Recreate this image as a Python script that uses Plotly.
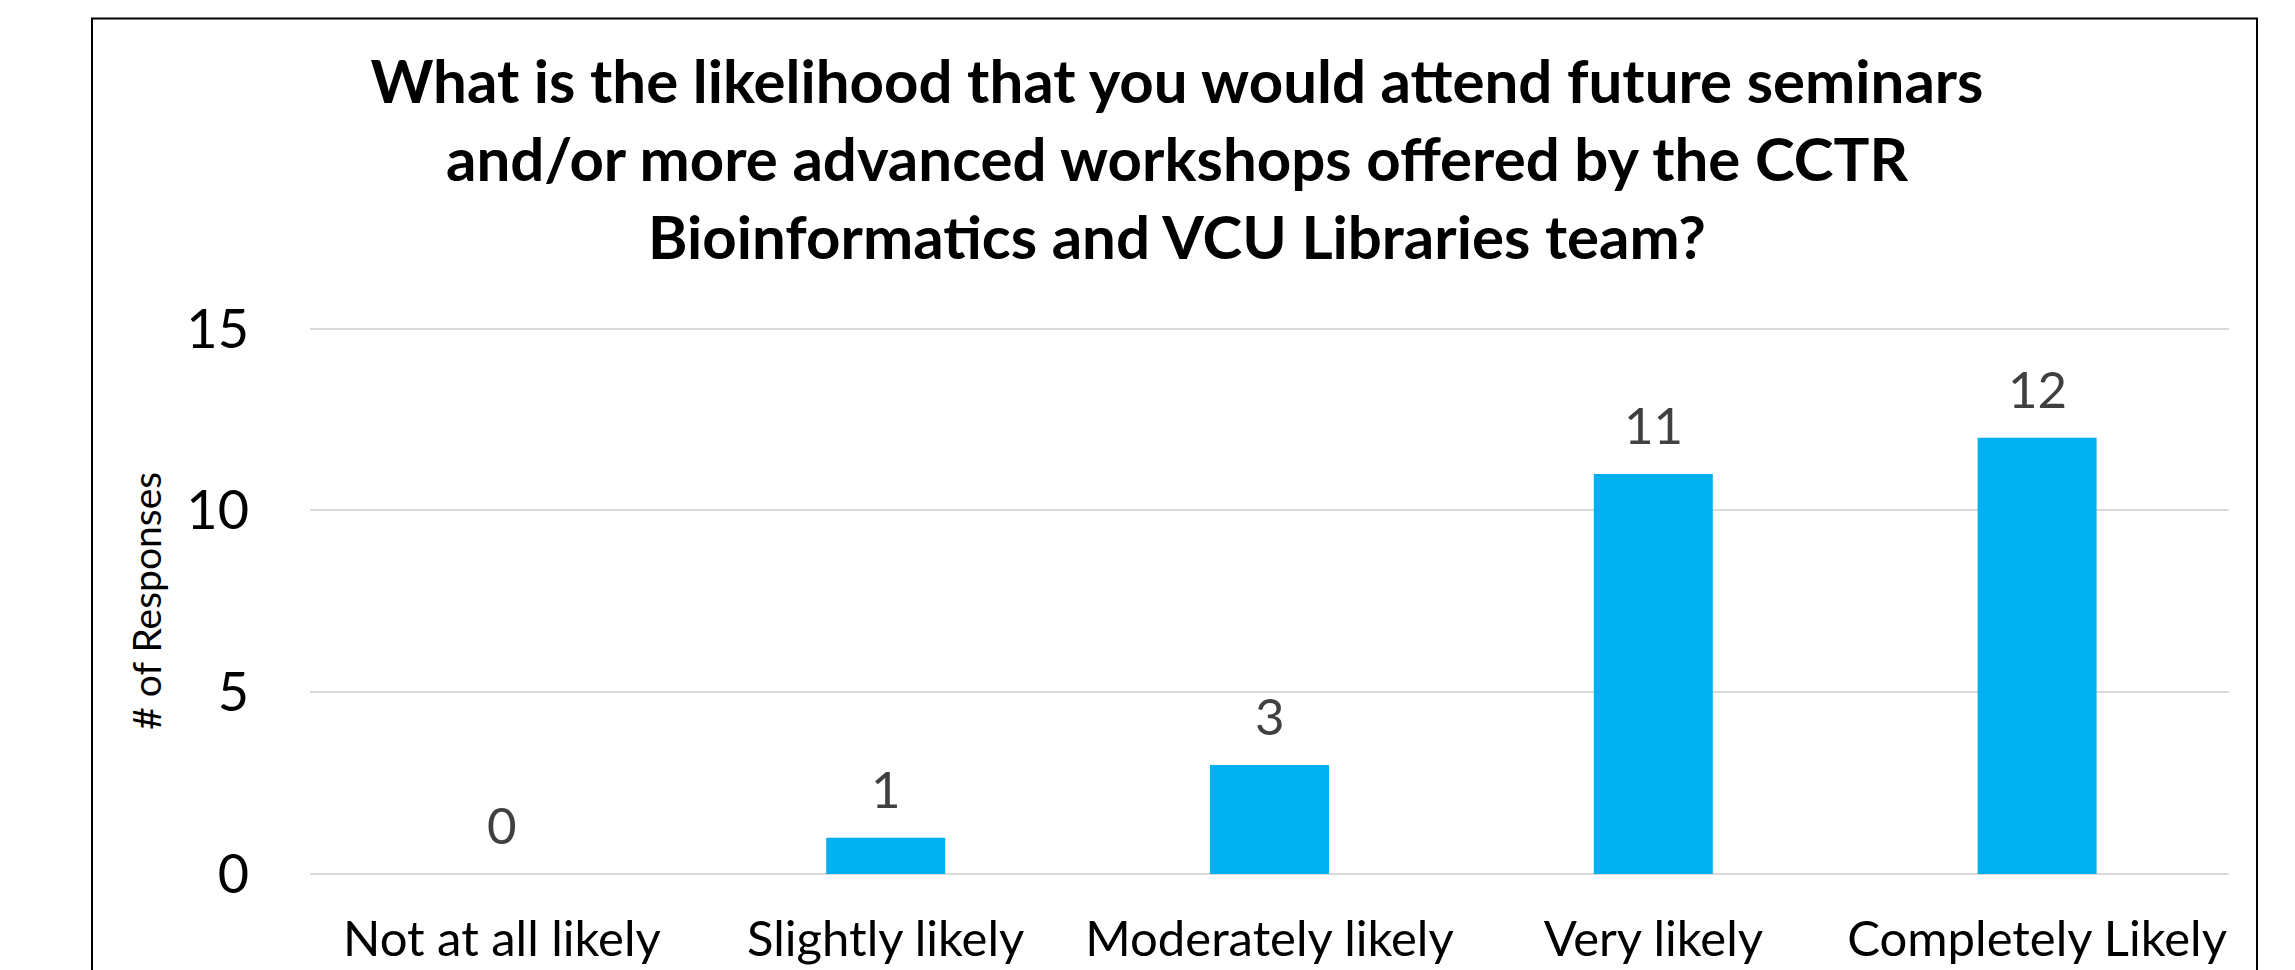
import plotly.graph_objects as go

categories = ["Not at all likely", "Slightly likely", "Moderately likely", "Very likely", "Completely Likely"]
responses = [0, 1, 3, 11, 12]
y_ticks = [0, 5, 10, 15]
title_text = ("What is the likelihood that you would attend future seminars<br>"
              "and/or more advanced workshops offered by the CCTR<br>"
              "Bioinformatics and VCU Libraries team?")
y_title = "# of Responses"

W, H = 2295, 970
Y_TOP_PX, Y_ZERO_PX = 329, 874          # pixel rows of y=15 and y=0
X_LEFT_PX, X_RIGHT_PX = 310, 2229
Y_MAX = 15.1                            # small headroom so the 15 gridline shows
unit = (Y_ZERO_PX - Y_TOP_PX) / 15.0
L = X_LEFT_PX
R = W - X_RIGHT_PX
B = H - Y_ZERO_PX
T = Y_TOP_PX - (Y_MAX - 15) * unit
pw, ph = W - L - R, H - T - B

FONT = "Lato"
BAR_COLOR = "#00B0F0"

def px_x(p):
    return (p - L) / pw

def px_y(p):
    return (H - B - p) / ph

fig = go.Figure()
fig.add_trace(go.Bar(
    x=categories, y=responses,
    marker=dict(color=BAR_COLOR, line=dict(width=0)),
    width=0.31,
    hoverinfo="x+y",
))

annotations = []
for c, v in zip(categories, responses):
    annotations.append(dict(
        x=c, y=v, xref="x", yref="y", text=str(v), showarrow=False,
        yanchor="bottom", xanchor="center", yshift=17,
        font=dict(family=FONT, size=51, color="#404040"),
    ))

annotations.append(dict(
    x=px_x(146), y=px_y(601), xref="paper", yref="paper", text=y_title,
    textangle=-90, showarrow=False, xanchor="center", yanchor="middle",
    font=dict(family=FONT, size=39, color="#000000"),
))

fig.update_layout(
    width=W, height=H,
    margin=dict(l=L, r=R, t=T, b=B, pad=0, autoexpand=False),
    paper_bgcolor="white", plot_bgcolor="white",
    showlegend=False,
    title=dict(
        text=title_text, x=px_x(1177), xref="paper", xanchor="center",
        y=1 - 103 / H, yref="container", yanchor="top",
        font=dict(family=FONT, size=60, color="#000000", weight="bold"),
    ),
    annotations=annotations,
    shapes=[dict(
        type="rect", xref="paper", yref="paper",
        x0=px_x(92), x1=px_x(2257), y0=px_y(1100), y1=px_y(19),
        line=dict(color="#000000", width=2), fillcolor="rgba(0,0,0,0)", layer="below",
    )],
    bargap=0.69,
)

fig.update_yaxes(
    range=[0, Y_MAX], tickvals=y_ticks, ticktext=[str(t) for t in y_ticks],
    showgrid=True, gridcolor="#D9D9D9", gridwidth=2,
    zeroline=True, zerolinecolor="#D9D9D9", zerolinewidth=2,
    showline=False, ticks="", ticklabelstandoff=60, automargin=False,
    tickfont=dict(family=FONT, size=54, color="#000000"),
    fixedrange=True,
)
fig.update_xaxes(
    showgrid=False, showline=False, ticks="", ticklabelstandoff=32, automargin=False,
    tickfont=dict(family=FONT, size=49, color="#000000"),
    fixedrange=True,
)

fig.write_html(
    "out.html",
    config={"displayModeBar": False},
    post_script="document.body.style.margin='0';document.body.style.overflow='hidden';",
)
